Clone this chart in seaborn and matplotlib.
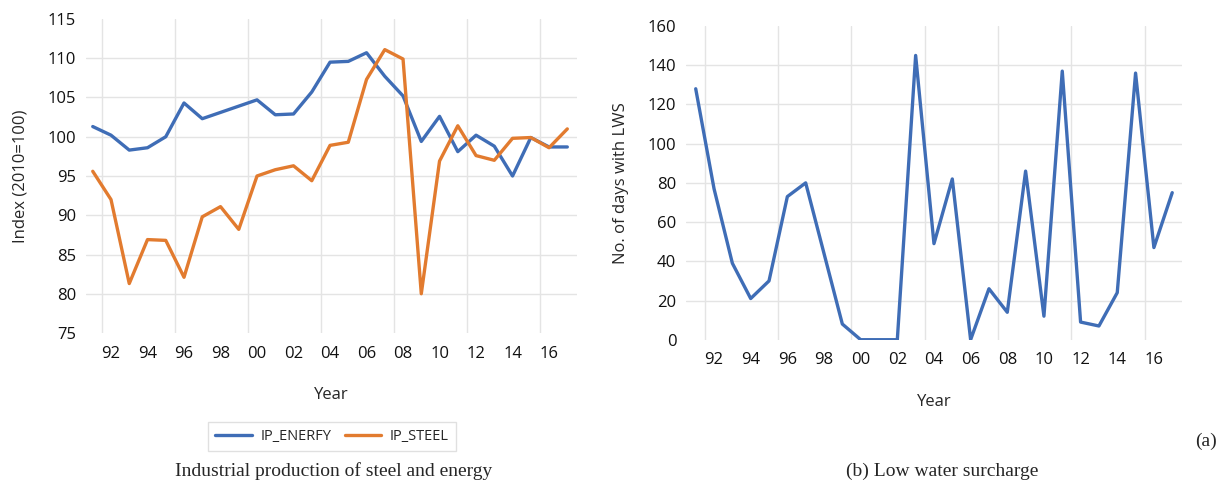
import pandas as pd
import matplotlib
matplotlib.use('Agg')
import matplotlib.pyplot as plt
import seaborn as sns

# data
years = [1991, 1992, 1993, 1994, 1995, 1996, 1997, 1998, 1999, 2000, 2001, 2002, 2003, 2004,
         2005, 2006, 2007, 2008, 2009, 2010, 2011, 2012, 2013, 2014, 2015, 2016, 2017]
ip_energy = [101.3, 100.2, 98.3, 98.6, 100.0, 104.3, 102.3, 103.1, 103.9, 104.7, 102.8, 102.9, 105.7, 109.5,
             109.6, 110.7, 107.7, 105.2, 99.4, 102.6, 98.1, 100.2, 98.8, 95.0, 99.9, 98.7, 98.7]
ip_steel = [95.6, 92.0, 81.3, 86.9, 86.8, 82.1, 89.8, 91.1, 88.2, 95.0, 95.8, 96.3, 94.4, 98.9,
            99.3, 107.3, 111.1, 109.9, 80.0, 96.9, 101.4, 97.6, 97.0, 99.8, 99.9, 98.6, 101.0]
lws_days = [128, 77, 39, 21, 30, 73, 80, 44, 8, 0, 0, 0, 145, 49,
            82, 0, 26, 14, 86, 12, 137, 9, 7, 24, 136, 47, 75]

tick_years = [1992, 1994, 1996, 1998, 2000, 2002, 2004, 2006, 2008, 2010, 2012, 2014, 2016]
tick_labels = ['92', '94', '96', '98', '00', '02', '04', '06', '08', '10', '12', '14', '16']
grid_years = [1991.5, 1995.5, 1999.5, 2003.5, 2007.5, 2011.5, 2015.5]

series_names = ['IP_ENERFY', 'IP_STEEL']
colors = ['#3F6DB6', '#E27B2F']

sns.set_style('white')
plt.rcParams['font.family'] = ['Open Sans', 'DejaVu Sans']

# long form table for the left chart
ip = pd.DataFrame({
    'Year': years * 2,
    'Index': ip_energy + ip_steel,
    'series': [series_names[0]] * len(years) + [series_names[1]] * len(years),
})
lws = pd.DataFrame({'Year': years, 'days': lws_days})

fig = plt.figure(figsize=(12.25, 4.82), dpi=100)
ax1 = fig.add_axes([0.0702, 0.3091, 0.4011, 0.6515])
ax2 = fig.add_axes([0.5600, 0.2952, 0.4047, 0.6508])

sns.lineplot(data=ip, x='Year', y='Index', hue='series', palette=colors, linewidth=2.4, ax=ax1)
sns.lineplot(data=lws, x='Year', y='days', color=colors[0], linewidth=2.4, ax=ax2, legend=False)


def style_axes(ax, xlim, ylim, yticks):
    ax.set_xlim(*xlim)
    ax.set_ylim(*ylim)
    ax.set_yticks(yticks)
    ax.set_xticks(tick_years)
    ax.set_xticklabels(tick_labels)
    ax.set_xticks(grid_years, minor=True)
    ax.tick_params(axis='both', which='both', length=0, labelsize=12, colors='#111111')
    ax.tick_params(axis='x', pad=9)
    ax.tick_params(axis='y', pad=7)
    ax.grid(False)
    ax.grid(True, axis='y', which='major', color='#E4E4E4', linewidth=1)
    ax.grid(True, axis='x', which='minor', color='#E4E4E4', linewidth=1)
    gl = ax.get_ygridlines()
    gl[0].set_visible(False)
    gl[-1].set_visible(False)
    for s in ax.spines.values():
        s.set_visible(False)


style_axes(ax1, (1990.63, 2017.55), (75, 115), [75, 80, 85, 90, 95, 100, 105, 110, 115])
style_axes(ax2, (1990.47, 2017.52), (0, 160), [0, 20, 40, 60, 80, 100, 120, 140, 160])

ax1.set_xlabel('Year', fontsize=12)
ax1.set_ylabel('Index (2010=100)', fontsize=12)
ax2.set_xlabel('Year', fontsize=12)
ax2.set_ylabel('No. of days with LWS', fontsize=12)
for ax, ycoord, xcoord in [(ax1, -0.197, -0.134), (ax2, -0.197, -0.132)]:
    ax.xaxis.set_label_coords(0.5, ycoord)
    ax.xaxis.label.set_va('center')
    ax.yaxis.set_label_coords(xcoord, 0.5)
    ax.yaxis.label.set_va('center')

ax1.get_legend().remove()
handles, labels = ax1.get_legend_handles_labels()
leg = fig.legend(handles, labels, loc='center', bbox_to_anchor=(0.2710, 0.0944), ncol=2,
                 fontsize=10.5, frameon=True, fancybox=False, handlelength=2.5,
                 handletextpad=0.6, columnspacing=0.9, borderpad=0.5, borderaxespad=0)
leg.get_frame().set_edgecolor('#D9D9D9')
leg.get_frame().set_linewidth(1)

fig.text(0.2727, 1 - 471 / 482, 'Industrial production of steel and energy',
         ha='center', va='center', fontsize=14, family='Liberation Serif')
fig.text(0.769, 1 - 471 / 482, '(b) Low water surcharge',
         ha='center', va='center', fontsize=14, family='Liberation Serif')
fig.text(1206 / 1225, 1 - 441 / 482, '(a)',
         ha='center', va='center', fontsize=14, family='Liberation Serif')

fig.savefig('out.png', dpi=100)
